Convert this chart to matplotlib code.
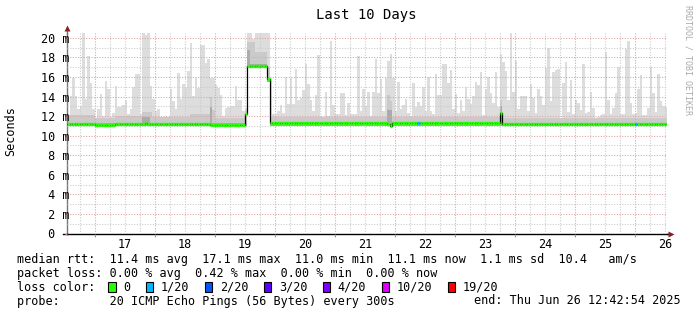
import numpy as np
import matplotlib
matplotlib.use("Agg")
import matplotlib.pyplot as plt
import matplotlib.dates as mdates
from matplotlib.patches import Rectangle
from matplotlib.ticker import MultipleLocator, FuncFormatter, NullFormatter

plt.rcParams["font.family"] = ["DejaVu Sans Mono"]


def runs(pairs):
    # expand (count, value) pairs
    out = []
    for n, v in pairs:
        out += [v] * n
    return out


start_time = np.datetime64("2025-06-16T12:42:54")

# hourly max rtt in ms (top of the smoke)
ping_max = [
    12.0, 14.05, 15.85, 14.05, 12.7, 13.0, 20.5, 13.8, 18.1, 15.4,
    12.7, 11.8, 12.7, 14.3, 12.0, 15.6, 14.8, 11.9, 12.35, 15.1,
    12.9, 12.9, 13.1, 13.6, 12.2, 12.7, 15.0, 16.3, 16.3, 12.2,
    20.5, 20.3, 20.5, 15.1, 13.8, 12.5, 12.7, 11.9, 11.5, 12.0,
    11.8, 14.8, 13.5, 12.7, 16.4, 13.8, 15.3, 15.0, 16.6,
    19.5, 14.05, 15.85, 14.9, 19.3, 19.3, 17.4, 17.8, 15.9, 15.9,
    15.2, 14.9, 14.2, 12.0, 12.85, 12.9, 13.0, 13.0, 15.1, 13.7,
    13.7, 12.5, 12.8, 20.5, 20.5, 19.9, 20.5, 20.5, 20.5, 20.5,
    20.5, 20.5, 15.9, 12.2, 12.2, 12.5, 13.1, 12.35, 16.0, 13.2,
    15.9, 13.2, 16.8, 13.7, 13.9, 14.7, 17.3, 15.3, 13.7,
    12.55, 14.2, 18.2, 11.8, 11.8, 14.5, 12.0, 19.7, 13.1, 12.2,
    12.2, 14.4, 14.4, 12.1, 13.3, 12.2, 12.2, 12.2, 18.1, 12.5,
    14.8, 13.0, 14.5, 12.0, 14.5, 17.8, 14.4, 15.8, 12.5, 15.85,
    17.6, 18.4, 15.9, 12.5, 15.5, 12.7, 13.1, 13.8, 12.35, 12.0,
    15.4, 12.9, 13.4, 13.0, 15.0, 12.5, 16.0, 12.5, 12.2,
    16.3, 14.2, 14.2, 17.3, 17.3, 15.4, 16.7, 12.7, 14.3, 12.35,
    13.6, 12.5, 15.0, 13.8, 13.2, 14.05, 15.5, 15.2, 16.5, 12.1,
    14.8, 16.0, 14.4, 13.3, 16.5, 12.9, 18.4, 17.5, 16.6, 13.7,
    20.5, 14.5, 17.6, 12.7, 14.05, 14.05, 14.05, 12.5, 15.3, 13.9,
    12.35, 14.8, 14.05, 13.1, 16.9, 19.0, 13.5, 16.5, 16.7, 16.8,
    11.8, 15.4, 17.5, 12.45, 15.65, 12.2, 13.7, 13.3, 12.6, 17.3,
    12.35, 12.4, 14.5, 12.8, 11.7, 11.9, 12.1, 12.2, 18.6, 13.6,
    12.2, 12.8, 14.4, 17.0, 12.2, 12.2, 18.9, 19.7, 13.3, 12.2,
    12.35, 14.8, 16.2, 12.1, 12.1, 12.8, 17.0, 14.4, 12.45, 16.3,
    13.5, 13.0, 12.9,
]

# bottom of the smoke
ping_min = runs([(72, 10.95), (8, 16.9), (1, 15.5), (159, 11.0)])

# upper edge of the denser (medium grey) part of the smoke
ping_upper = runs([(11, 12.1), (8, 11.8), (11, 12.0), (4, 12.4), (15, 11.9),
                   (8, 12.2), (1, 14.0), (1, 12.6), (12, 11.8), (1, 12.6),
                   (3, 19.6), (5, 18.6), (1, 17.0), (47, 11.9), (1, 14.2), (1, 13.5),
                   (43, 11.9), (1, 13.6), (66, 11.8)])

# upper edge of the dark core
ping_core = runs([(30, 11.3), (3, 11.9), (24, 11.3), (1, 12.9), (14, 11.3),
                  (1, 18.8), (7, 17.3), (1, 15.9), (47, 11.4), (2, 12.6),
                  (43, 11.4), (1, 13.0), (66, 11.3)])

# median rtt in ms
median = runs([(11, 11.15), (8, 11.05), (12, 11.15), (1, 11.25), (17, 11.15),
               (8, 11.15), (14, 11.1), (1, 12.2), (8, 17.1), (1, 15.75),
               (47, 11.25), (1, 11.2), (1, 11.0), (43, 11.25), (1, 12.3),
               (66, 11.2)])

# lost pings out of 20 per hour
loss = runs([(140, 0), (1, 1), (86, 0), (1, 1), (12, 0)])

loss_levels = ["0", "1/20", "2/20", "3/20", "4/20", "10/20", "19/20"]
loss_colors = ["#26ff00", "#00b8ff", "#0059ff", "#5e00ff", "#7e00ff", "#dd00ff", "#ff0000"]

assert len(ping_max) == 240 and len(median) == 240 and len(loss) == 240

W, H = 697, 315
fig = plt.figure(figsize=(W / 100, H / 100), dpi=100)
fig.patch.set_facecolor("white")


def fx(x):
    return x / W


def fy(y):
    return 1 - y / H


ax = fig.add_axes([fx(67), fy(233.5), 600 / W, 200.5 / H])

t0 = mdates.date2num(start_time)
t_edges = t0 + np.arange(len(ping_max) + 1) / 24.0


def closed(v):
    return list(v) + [v[-1]]


ax.fill_between(t_edges, closed(ping_min), closed(ping_max), step="post",
                color="#dddddd", lw=0, zorder=1)
ax.fill_between(t_edges, closed(ping_min), closed(ping_upper), step="post",
                color="#cacaca", lw=0, zorder=1.1)
ax.fill_between(t_edges, closed(ping_min), closed(ping_core), step="post",
                color="#ababab", lw=0, zorder=1.2)

ax.step(t_edges, closed(median), where="post", color="black", lw=0.9, zorder=3)
seg_colors = [loss_colors[min(l, len(loss_colors) - 1)] for l in loss]
ax.hlines(median, t_edges[:-1], t_edges[1:], colors=seg_colors, lw=2.4, zorder=4)

ax.set_xlim(t_edges[0], t_edges[-1])
ax.set_ylim(0, 20.5)

# grid
ax.set_axisbelow(False)
ax.xaxis.set_major_locator(mdates.HourLocator(byhour=0))
ax.xaxis.set_minor_locator(mdates.HourLocator(byhour=[6, 12, 18]))
ax.xaxis.set_major_formatter(NullFormatter())
ax.yaxis.set_major_locator(MultipleLocator(2))
ax.yaxis.set_minor_locator(MultipleLocator(1))
ax.grid(which="major", color="#e4a4a4", ls=(0, (1, 1.4)), lw=0.8)
ax.grid(which="minor", color="#cccccc", ls=(0, (1, 1.4)), lw=0.8)
ax.tick_params(which="minor", length=0)
ax.tick_params(axis="x", which="major", length=2.5, color="#d88080", width=0.8)
ax.tick_params(axis="y", which="major", length=1.5, color="#d88080", width=0.8,
               labelsize=8.5, pad=17.5)


def ylab(v, pos):
    return "%2d m" % v if v > 0 else " 0"


ax.yaxis.set_major_formatter(FuncFormatter(ylab))
for lbl in ax.get_yticklabels():
    lbl.set_horizontalalignment("left")

sec = ax.secondary_xaxis("bottom")
sec.xaxis.set_major_locator(mdates.HourLocator(byhour=12))
sec.xaxis.set_major_formatter(mdates.DateFormatter("%d"))
sec.tick_params(length=0, labelsize=8.5, pad=3)
sec.spines["bottom"].set_visible(False)

for s in ["top", "right"]:
    ax.spines[s].set_visible(False)
ax.spines["left"].set_color("#777777")
ax.spines["bottom"].set_color("black")
ax.spines["left"].set_linewidth(1)
ax.spines["bottom"].set_linewidth(1)

# axis arrows
ax.plot([0, 0], [1, 1.02], transform=ax.transAxes, color="#777777", lw=1, clip_on=False)
ax.plot([1, 1.006], [0, 0], transform=ax.transAxes, color="black", lw=1, clip_on=False)
ax.plot([-0.007, 0], [0, 0], transform=ax.transAxes, color="black", lw=1, clip_on=False)
ax.plot(0, 1.024, marker="^", ms=5, color="#8b2020", mec="none",
        transform=ax.transAxes, clip_on=False)
ax.plot(1.007, 0, marker=">", ms=5, color="#8b2020", mec="none",
        transform=ax.transAxes, clip_on=False)

fig.text(fx(366), fy(19), "Last 10 Days", ha="center", va="baseline", fontsize=10)
fig.text(fx(11), fy(131), "Seconds", rotation=90, ha="center", va="center", fontsize=8.5)
fig.text(fx(688), fy(5), "RRDTOOL / TOBI OETIKER", rotation=270, ha="center", va="top",
         fontsize=6, color="#aaaaaa")

fs = 8.5
x0 = 16.7
fig.text(fx(x0), fy(263.3),
         "median rtt:  11.4 ms avg  17.1 ms max  11.0 ms min  11.1 ms now  1.1 ms sd  10.4   am/s",
         ha="left", va="baseline", fontsize=fs)
fig.text(fx(x0), fy(277),
         "packet loss: 0.00 % avg  0.42 % max  0.00 % min  0.00 % now",
         ha="left", va="baseline", fontsize=fs)
fig.text(fx(x0), fy(291), "loss color:", ha="left", va="baseline", fontsize=fs)
fig.text(fx(x0), fy(304.5), "probe:       20 ICMP Echo Pings (56 Bytes) every 300s",
         ha="left", va="baseline", fontsize=fs)
fig.text(fx(681), fy(304.5), "end: Thu Jun 26 12:42:54 2025",
         ha="right", va="baseline", fontsize=fs)

# loss colour legend
cw = 7.1
sx = 108.3
for lvl, col in zip(loss_levels, loss_colors):
    fig.patches.append(Rectangle((fx(sx), fy(291.5)), 7.5 / W, 10 / H, transform=fig.transFigure,
                                 facecolor=col, edgecolor="black", lw=0.8))
    fig.text(fx(sx + 15), fy(291), lvl, ha="left", va="baseline", fontsize=fs)
    sx = sx + 15 + cw * len(lvl) + 15.5

fig.savefig("out.png", dpi=100, facecolor="white")
